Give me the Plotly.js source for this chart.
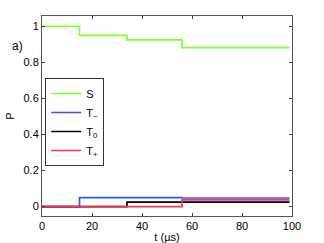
<!DOCTYPE html>
<html><head><meta charset="utf-8">
<script src="https://cdn.plot.ly/plotly-3.0.1.min.js"></script>
<style>html,body{margin:0;padding:0;background:#fff;}#c{width:324px;height:243px;}</style>
</head><body><div id="c"></div>
<script>
const tS = [0, 15, 34, 56, 99];
const pS = [1, 0.95, 0.925, 0.883, 0.883];
const tM = [0, 15, 56, 99];
const pM = [0, 0.05, 0.048, 0.048];
const t0 = [0, 34, 99];
const p0 = [0, 0.025, 0.025];
const tP = [0, 56, 99];
const pP = [0, 0.037, 0.037];
const names = ['S', 'T<sub>−</sub>', 'T<sub>0</sub>', 'T<sub>+</sub>'];
const xTicks = [0, 20, 40, 60, 80, 100];
const yTicks = [0, 0.2, 0.4, 0.6, 0.8, 1];
const yTickText = ['0', '0.2', '0.4', '0.6', '0.8', '1'];

const mk = (x, y, name, color) => ({x, y, name, type: 'scatter', mode: 'lines',
  line: {shape: 'hv', color, width: 1.7}});
const data = [
  mk(tS, pS, names[0], '#7dff3a'),
  mk(tM, pM, names[1], '#3355ff'),
  mk(t0, p0, names[2], '#000000'),
  mk(tP, pP, names[3], '#ff3355')
];
const ax = {showgrid: false, zeroline: false, ticks: 'inside', ticklen: 3, tickcolor: '#444',
  mirror: 'ticks', showline: true, linecolor: '#555', linewidth: 1,
  tickfont: {family: 'Liberation Sans, Arial, sans-serif', size: 11, color: '#000'}};
const layout = {
  width: 324, height: 243,
  margin: {l: 42, r: 32, t: 16, b: 27},
  paper_bgcolor: '#fff', plot_bgcolor: '#fff',
  font: {family: 'Liberation Sans, Arial, sans-serif', size: 11, color: '#000'},
  xaxis: Object.assign({}, ax, {range: [0, 100], tickvals: xTicks,
    title: {text: 't (µs)', standoff: 2, font: {size: 11}}}),
  yaxis: Object.assign({}, ax, {range: [-0.052, 1.058], tickvals: yTicks, ticktext: yTickText,
    title: {text: 'P', standoff: 6, font: {size: 11}}}),
  showlegend: true,
  legend: {x: 0.013, y: 0.69, xanchor: 'left', yanchor: 'top', bgcolor: '#fff',
    bordercolor: '#333', borderwidth: 1, font: {size: 11}, itemwidth: 30,
    tracegroupgap: 0, traceorder: 'normal'},
  annotations: [{text: 'a)', xref: 'paper', yref: 'paper', x: -0.1, y: 0.85,
    xanchor: 'center', yanchor: 'middle', showarrow: false, font: {size: 12}}]
};
Plotly.newPlot('c', data, layout, {staticPlot: true, displayModeBar: false});
</script></body></html>
